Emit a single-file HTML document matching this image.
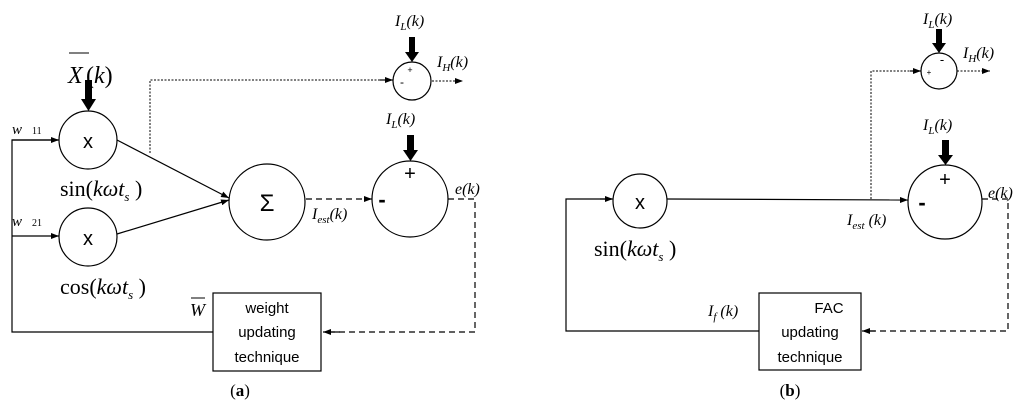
<!DOCTYPE html>
<html><head><meta charset="utf-8"><style>
html,body{margin:0;padding:0;background:#fff;}
svg{display:block;}
.s{font-family:"Liberation Serif",serif;font-style:italic;}
.r{font-family:"Liberation Serif",serif;}
.a{font-family:"Liberation Sans",sans-serif;}
</style></head><body>
<svg width="1024" height="407" viewBox="0 0 1024 407" xmlns="http://www.w3.org/2000/svg">
<defs>
<marker id="ar" markerWidth="8" markerHeight="6" refX="8" refY="3" orient="auto" markerUnits="userSpaceOnUse"><path d="M0,0 L8,3 L0,6 z" fill="#000"/></marker>
</defs>
<g stroke="#000" fill="none" stroke-width="1.2">
<!-- Panel a -->
<circle cx="88" cy="140" r="29"/>
<circle cx="88" cy="237" r="29"/>
<circle cx="267" cy="202" r="38"/>
<circle cx="410" cy="199" r="38"/>
<circle cx="412" cy="81" r="19"/>
<polyline points="58,140 12,140 12,332 213,332"/>
<line x1="12" y1="140" x2="59" y2="140" marker-end="url(#ar)"/>
<line x1="12" y1="236" x2="59" y2="236" marker-end="url(#ar)"/>
<line x1="117" y1="140" x2="229" y2="198" marker-end="url(#ar)"/>
<line x1="117" y1="234" x2="229" y2="200" marker-end="url(#ar)"/>
<rect x="213" y="293" width="108" height="78"/>
<line x1="306" y1="199" x2="372" y2="199" stroke-dasharray="6,4" marker-end="url(#ar)"/>
<polyline points="448,199 475,199 475,332 330,332" stroke-dasharray="6,4"/>
<line x1="340" y1="332" x2="323" y2="332" marker-end="url(#ar)"/>
<polyline points="150,153 150,80 392,80" stroke-dasharray="2,1.5" stroke-width="1"/>
<line x1="380" y1="80" x2="393" y2="80" marker-end="url(#ar)"/>
<line x1="432" y1="81" x2="463" y2="81" stroke-dasharray="2,1.5" stroke-width="1" marker-end="url(#ar)"/>
<!-- Panel b -->
<circle cx="640" cy="201" r="27"/>
<circle cx="945" cy="202" r="37"/>
<circle cx="939" cy="71" r="18"/>
<polyline points="759,331 566,331 566,199 612,199"/>
<line x1="600" y1="199" x2="613" y2="199" marker-end="url(#ar)"/>
<line x1="667" y1="199" x2="908" y2="200" marker-end="url(#ar)"/>
<rect x="759" y="293" width="102" height="77"/>
<polyline points="982,199 1008,199 1008,331 870,331" stroke-dasharray="6,4"/>
<line x1="875" y1="331" x2="862" y2="331" marker-end="url(#ar)"/>
<polyline points="871,199 871,71 920,71" stroke-dasharray="2,1.5" stroke-width="1"/>
<line x1="910" y1="71" x2="921" y2="71" marker-end="url(#ar)"/>
<line x1="957" y1="71" x2="990" y2="71" stroke-dasharray="2,1.5" stroke-width="1" marker-end="url(#ar)"/>
</g>
<!-- thick arrows -->
<g fill="#000">
<rect x="85" y="80" width="7" height="20"/><path d="M81,99 L96,99 L88.5,111 z"/>
<rect x="409" y="37" width="6" height="16"/><path d="M405,52 L419,52 L412,62 z"/>
<rect x="407" y="135" width="7" height="16"/><path d="M403,150 L418,150 L410.5,161 z"/>
<rect x="936" y="29" width="6" height="15"/><path d="M932,43 L946,43 L939,53 z"/>
<rect x="942" y="140" width="7" height="16"/><path d="M938,155 L953,155 L945.5,165 z"/>
</g>
<!-- text a -->
<g font-size="20" class="a" text-anchor="middle">
<text x="88" y="148">x</text><text x="88" y="245">x</text>
<text x="267" y="211" font-size="24">Σ</text>
</g>
<text x="68" y="83" class="s" font-size="24">X</text>
<line x1="69" y1="53" x2="89" y2="53" stroke="#000" stroke-width="1"/>
<text x="86" y="83" class="r" font-size="24">(<tspan class="s">k</tspan>)</text>
<text x="12" y="134" class="s" font-size="15">w</text><text x="32" y="134" class="r" font-size="10">11</text>
<text x="12" y="226" class="s" font-size="15">w</text><text x="32" y="226" class="r" font-size="10">21</text>
<text x="60" y="196" class="r" font-size="22">sin(<tspan class="s">kωt</tspan><tspan font-size="13" dy="5" class="s">s</tspan><tspan dy="-5"> )</tspan></text>
<text x="60" y="294" class="r" font-size="22">cos(<tspan class="s">kωt</tspan><tspan font-size="13" dy="5" class="s">s</tspan><tspan dy="-5"> )</tspan></text>
<text x="395" y="26" class="s" font-size="16">I<tspan font-size="11" dy="4">L</tspan><tspan dy="-4">(k)</tspan></text>
<text x="437" y="67" class="s" font-size="16">I<tspan font-size="11" dy="4">H</tspan><tspan dy="-4">(k)</tspan></text>
<text x="386" y="124" class="s" font-size="16">I<tspan font-size="11" dy="4">L</tspan><tspan dy="-4">(k)</tspan></text>
<text x="455" y="194" class="s" font-size="16">e(k)</text>
<text x="312" y="219" class="s" font-size="16">I<tspan font-size="11" dy="4">est</tspan><tspan dy="-4">(k)</tspan></text>
<text x="410" y="73" class="a" font-size="9" text-anchor="middle">+</text>
<text x="402" y="86" class="a" font-size="12" text-anchor="middle">-</text>
<text x="410" y="180" class="a" font-size="20" text-anchor="middle">+</text>
<text x="382" y="207" class="a" font-size="22" font-weight="bold" text-anchor="middle">-</text>
<text x="190" y="316" class="s" font-size="18">W</text>
<line x1="191" y1="298" x2="205" y2="298" stroke="#000" stroke-width="1"/>
<g class="a" font-size="15" text-anchor="middle">
<text x="267" y="313">weight</text><text x="267" y="337">updating</text><text x="267" y="362">technique</text>
<text x="829" y="313">FAC</text><text x="810" y="337">updating</text><text x="810" y="362">technique</text>
</g>
<text x="240" y="396" class="r" font-size="17" text-anchor="middle">(<tspan font-weight="bold">a</tspan>)</text>
<!-- text b -->
<text x="640" y="209" class="a" font-size="20" text-anchor="middle">x</text>
<text x="594" y="256" class="r" font-size="22">sin(<tspan class="s">kωt</tspan><tspan font-size="13" dy="5" class="s">s</tspan><tspan dy="-5"> )</tspan></text>
<text x="923" y="24" class="s" font-size="16">I<tspan font-size="11" dy="4">L</tspan><tspan dy="-4">(k)</tspan></text>
<text x="963" y="58" class="s" font-size="16">I<tspan font-size="11" dy="4">H</tspan><tspan dy="-4">(k)</tspan></text>
<text x="923" y="130" class="s" font-size="16">I<tspan font-size="11" dy="4">L</tspan><tspan dy="-4">(k)</tspan></text>
<text x="988" y="198" class="s" font-size="16">e(k)</text>
<text x="847" y="225" class="s" font-size="16">I<tspan font-size="11" dy="4">est</tspan><tspan dy="-4"> (k)</tspan></text>
<text x="708" y="316" class="s" font-size="16">I<tspan font-size="11" dy="4">f</tspan><tspan dy="-4"> (k)</tspan></text>
<text x="929" y="75" class="a" font-size="8" text-anchor="middle">+</text>
<text x="942" y="64" class="a" font-size="13" text-anchor="middle">-</text>
<text x="945" y="186" class="a" font-size="20" text-anchor="middle">+</text>
<text x="922" y="210" class="a" font-size="22" font-weight="bold" text-anchor="middle">-</text>
<text x="790" y="396" class="r" font-size="17" text-anchor="middle">(<tspan font-weight="bold">b</tspan>)</text>
</svg>
</body></html>
